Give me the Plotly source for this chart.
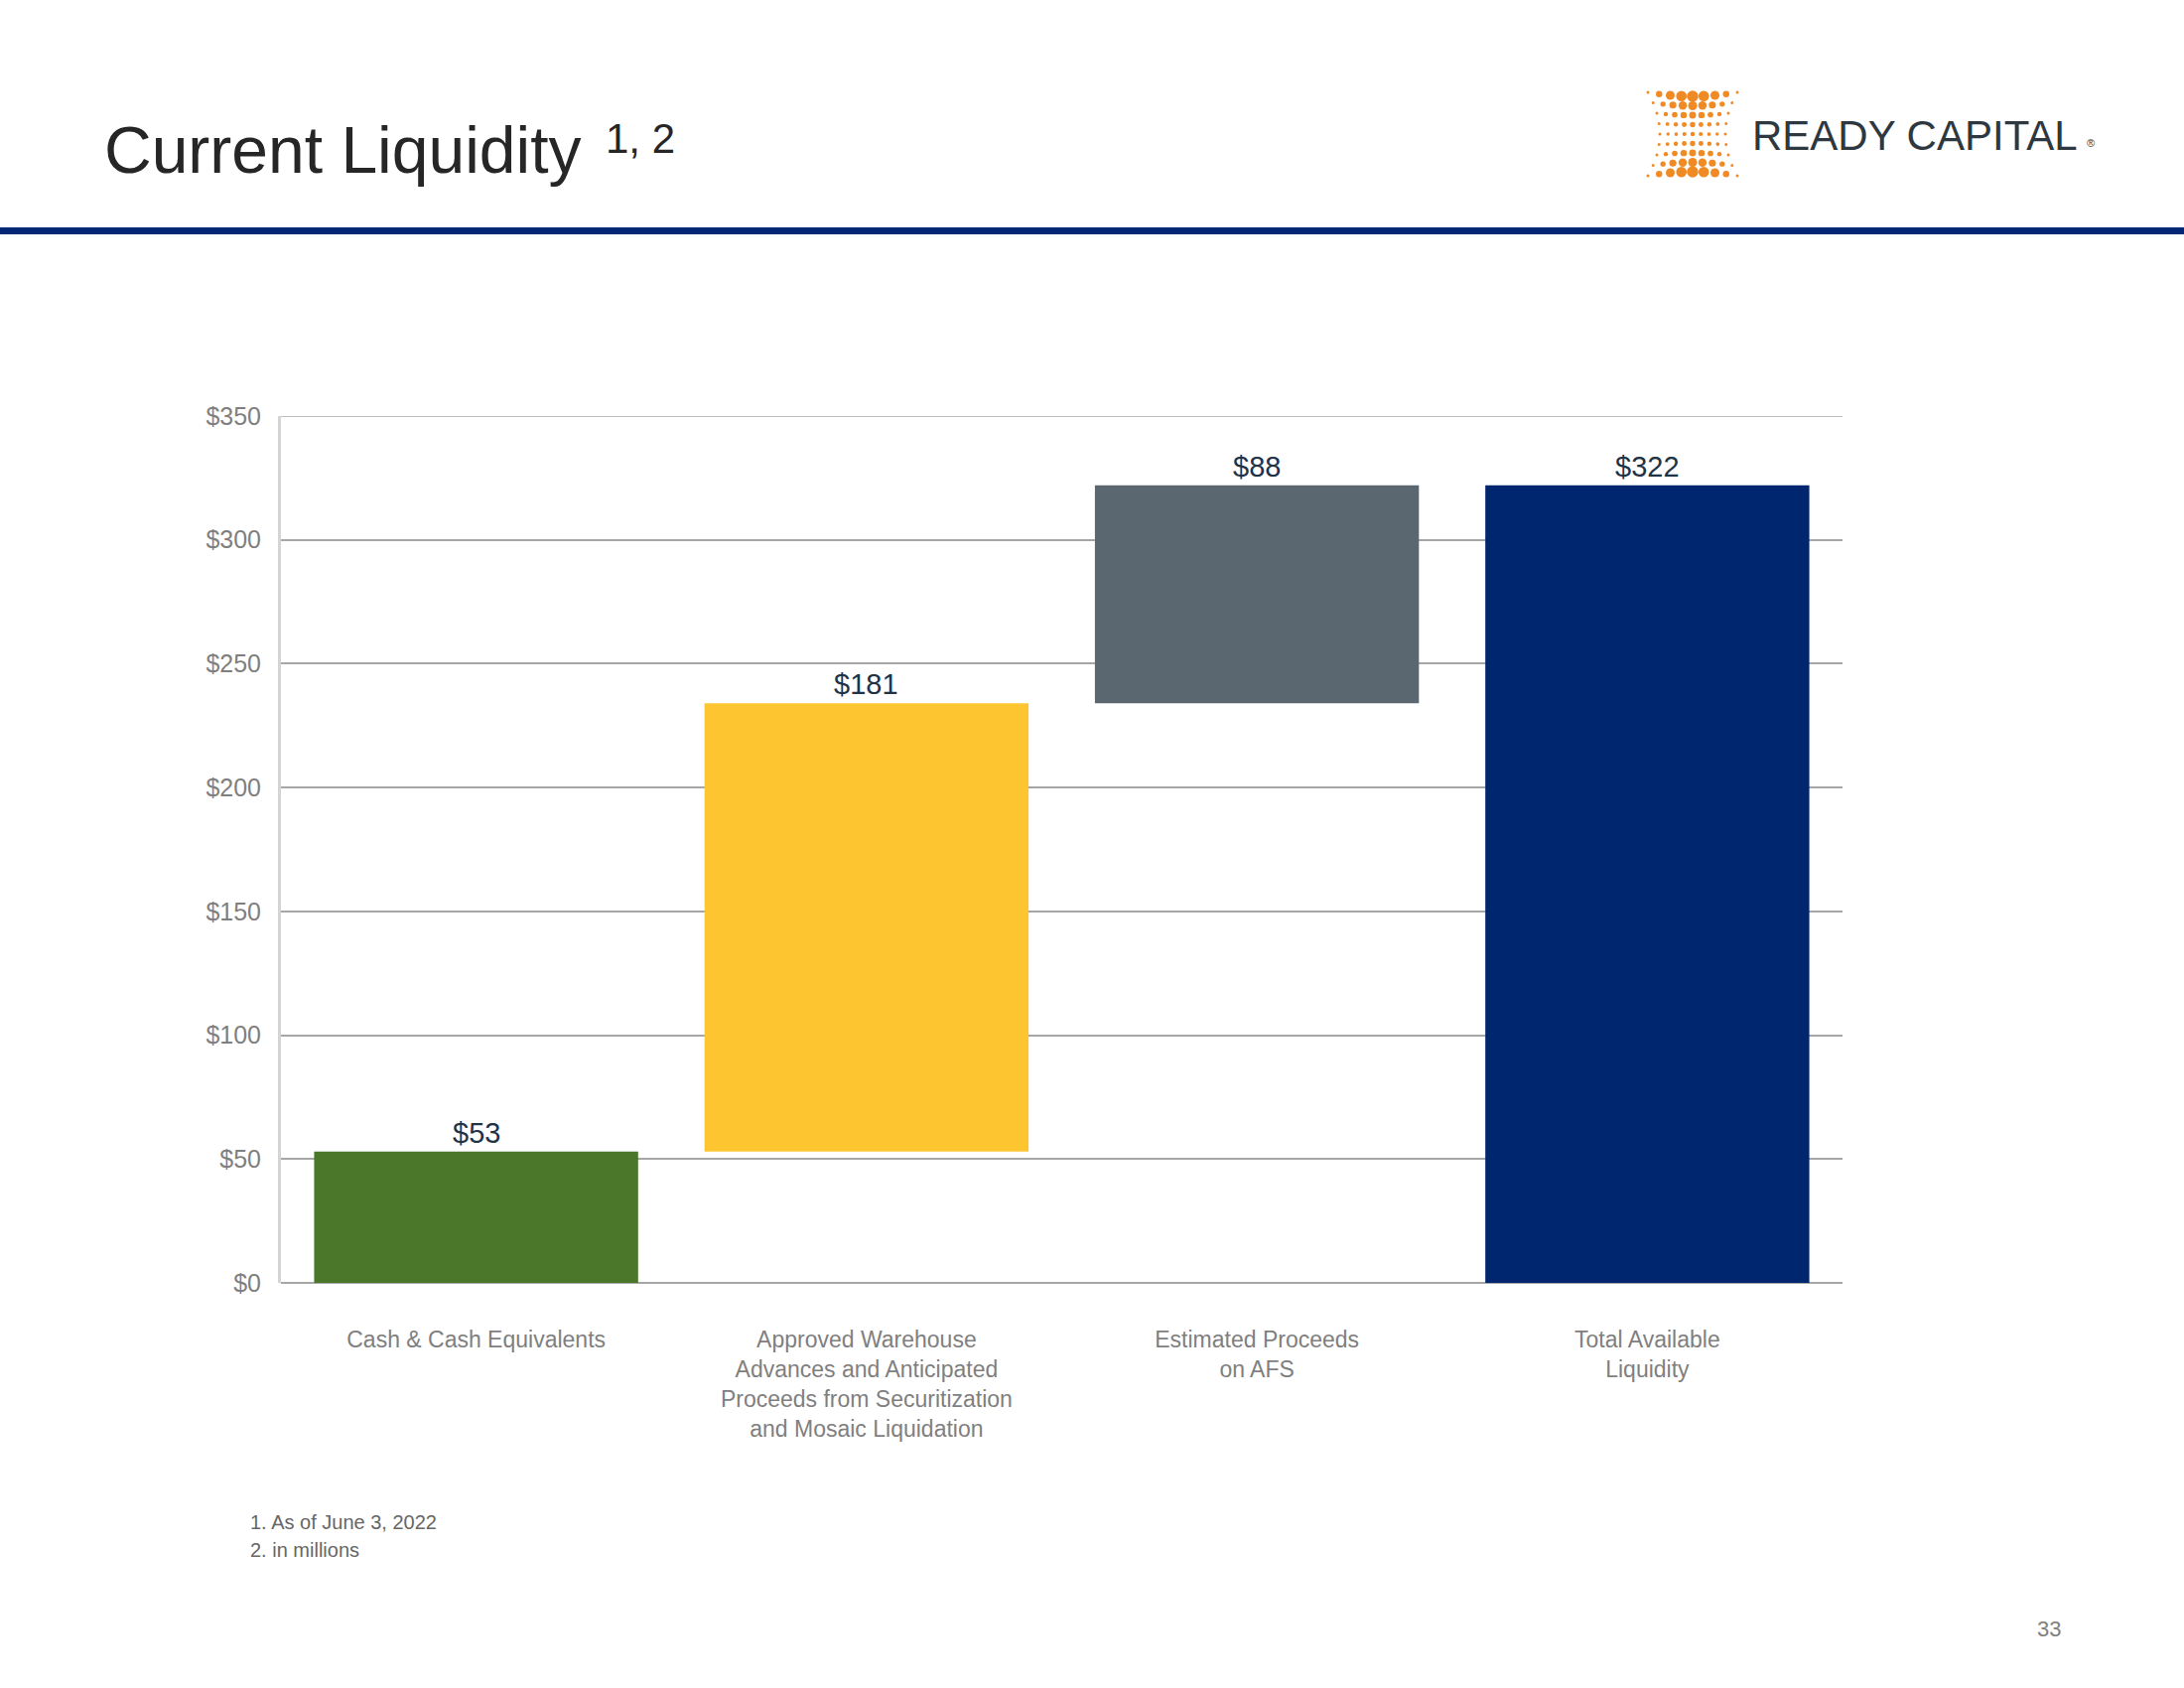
import plotly.graph_objects as go
import numpy as np

W, H = 2200, 1700

# ---------------- data ----------------
categories = [
    "Cash & Cash Equivalents",
    "Approved Warehouse<br>Advances and Anticipated<br>Proceeds from Securitization<br>and Mosaic Liquidation",
    "Estimated Proceeds<br>on AFS",
    "Total Available<br>Liquidity",
]
values = [53, 181, 88, 322]
is_total = [False, False, False, True]
value_labels = ["$53", "$181", "$88", "$322"]
bar_colors = ["#4A7729", "#FDC52F", "#5B6770", "#00266F"]
y_tick_values = [0, 50, 100, 150, 200, 250, 300, 350]
y_tick_labels = ["$0", "$50", "$100", "$150", "$200", "$250", "$300", "$350"]
footnotes = ["1. As of June 3, 2022", "2. in millions"]
title_text = "Current Liquidity"
title_sup = "1, 2"
page_number = "33"
logo_text = "READY CAPITAL"

# waterfall bases
bases = []
running = 0
for v, tot in zip(values, is_total):
    if tot:
        bases.append(0)
    else:
        bases.append(running)
        running += v


def px(x):
    return x / W


def py(y):
    return 1 - y / H


FONT = "Liberation Sans, Arial, sans-serif"
GRID = "#A6A6A6"

fig = go.Figure()
fig.add_trace(go.Bar(
    x=categories, y=values, base=bases,
    marker=dict(color=bar_colors, line=dict(width=0)),
    hoverinfo="skip", showlegend=False,
))

annotations = []
for c, v, b, lab in zip(categories, values, bases, value_labels):
    annotations.append(dict(
        x=c, y=b + v, xref="x", yref="y", text=lab, showarrow=False,
        yanchor="bottom", yshift=1,
        font=dict(family=FONT, size=29, color="#1F3346"),
    ))

# title and decorations
annotations.append(dict(x=px(103), y=py(151), xref="paper", yref="paper",
                        text=title_text, showarrow=False, xanchor="left", yanchor="middle",
                        font=dict(family=FONT, size=66, color="#262626")))
annotations.append(dict(x=px(608), y=py(139), xref="paper", yref="paper",
                        text=title_sup, showarrow=False, xanchor="left", yanchor="middle",
                        font=dict(family=FONT, size=42, color="#262626")))
annotations.append(dict(x=px(1763), y=py(137), xref="paper", yref="paper",
                        text=logo_text, showarrow=False, xanchor="left", yanchor="middle",
                        font=dict(family=FONT, size=42, color="#2E3840")))
annotations.append(dict(x=px(2100), y=py(144), xref="paper", yref="paper",
                        text="®", showarrow=False, xanchor="left", yanchor="middle",
                        font=dict(family=FONT, size=11, color="#2E3840")))
for i, ft in enumerate(footnotes):
    annotations.append(dict(x=px(250), y=py(1533 + 28 * i), xref="paper", yref="paper",
                            text=ft, showarrow=False, xanchor="left", yanchor="middle",
                            font=dict(family=FONT, size=20, color="#666666")))
annotations.append(dict(x=px(2064), y=py(1640), xref="paper", yref="paper",
                        text=page_number, showarrow=False, xanchor="center", yanchor="middle",
                        font=dict(family=FONT, size=22, color="#808080")))

shapes = [
    dict(type="rect", xref="paper", yref="paper",
         x0=0, x1=1, y0=py(236), y1=py(229),
         fillcolor="#002776", line=dict(width=0), layer="above"),
    # top gridline at the range edge
    dict(type="line", xref="x domain", yref="y", x0=0, x1=1,
         y0=y_tick_values[-1], y1=y_tick_values[-1],
         line=dict(color=GRID, width=1.5), layer="below"),
]

# logo dots (decorative)
for i in range(-4, 5):
    for j in range(-4, 5):
        half_w = 33 + 12 * (i / 4) ** 2
        xx = 1705 + j / 4 * half_w
        yy = 135 + i * 10.5 - np.sign(i) * (1 - (j / 4) ** 2) * 4 * abs(i) / 4
        d = 3.0 + 7.0 * (abs(i) / 4) ** 1.5 * (1 - (abs(j) / 4) ** 2) + 1.5 * (1 - abs(j) / 4)
        r = d / 2
        shapes.append(dict(type="circle", xref="paper", yref="paper",
                           x0=px(xx - r), x1=px(xx + r), y0=py(yy + r), y1=py(yy - r),
                           fillcolor="#F08A24", line=dict(width=0), layer="above"))

fig.update_layout(
    width=W, height=H,
    margin=dict(l=0, r=0, t=0, b=0),
    paper_bgcolor="white", plot_bgcolor="white",
    bargap=0.17,
    annotations=annotations,
    shapes=shapes,
    xaxis=dict(
        domain=[px(283), px(1856)], type="category", range=[-0.5, 3.5],
        showgrid=False, showline=False, zeroline=False, ticks="",
        ticklabelstandoff=41, automargin=False,
        tickfont=dict(family=FONT, size=23, color="#7F7F7F"),
    ),
    yaxis=dict(
        domain=[py(1292), py(419)], range=[0, 350],
        tickvals=y_tick_values, ticktext=y_tick_labels,
        showgrid=True, gridcolor=GRID, gridwidth=1.5,
        zeroline=True, zerolinecolor=GRID, zerolinewidth=1.5,
        showline=True, linecolor="#D4D4D4", linewidth=3,
        ticks="", ticklabelstandoff=12, automargin=False,
        tickfont=dict(family=FONT, size=25, color="#7F7F7F"),
    ),
)

fig.write_html("out.html", config={"displayModeBar": False},
               post_script="document.body.style.margin='0';")
